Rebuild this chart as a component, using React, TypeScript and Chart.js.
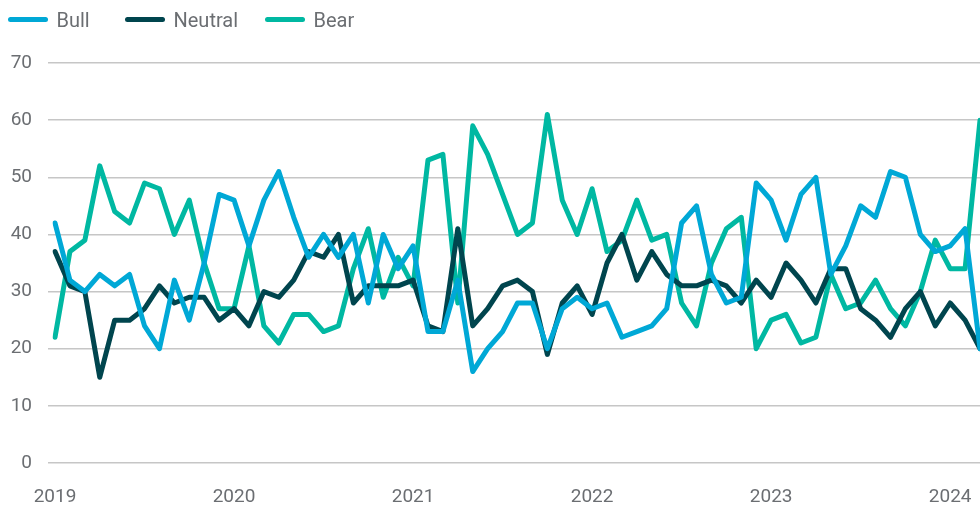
import React, { useEffect, useRef } from 'react';
import { Chart, registerables } from 'chart.js';

Chart.register(...registerables);

// ---- data ----
const yearTicks = ['2019', '2020', '2021', '2022', '2023', '2024'];
const monthNames = ['Jan', 'Feb', 'Mar', 'Apr', 'May', 'Jun', 'Jul', 'Aug', 'Sep', 'Oct', 'Nov', 'Dec'];
// Jan 2019 – Mar 2024 (63 months)
const categories: string[] = [];
yearTicks.forEach((y) => monthNames.forEach((m) => categories.push(`${m} ${y}`)));
const months = categories.slice(0, 63);

const bull = [
  42, 32, 30, 33, 31, 33, 24, 20, 32, 25, 35, 47,
  46, 38, 46, 51, 43, 36, 40, 36, 40, 28, 40, 34,
  38, 23, 23, 32, 16, 20, 23, 28, 28, 20, 27, 29,
  27, 28, 22, 23, 24, 27, 42, 45, 33, 28, 29, 49,
  46, 39, 47, 50, 33, 38, 45, 43, 51, 50, 40, 37,
  38, 41, 20,
];
const neutral = [
  37, 31, 30, 15, 25, 25, 27, 31, 28, 29, 29, 25,
  27, 24, 30, 29, 32, 37, 36, 40, 28, 31, 31, 31,
  32, 24, 23, 41, 24, 27, 31, 32, 30, 19, 28, 31,
  26, 35, 40, 32, 37, 33, 31, 31, 32, 31, 28, 32,
  29, 35, 32, 28, 34, 34, 27, 25, 22, 27, 30, 24,
  28, 25, 20,
];
const bear = [
  22, 37, 39, 52, 44, 42, 49, 48, 40, 46, 35, 27,
  27, 38, 24, 21, 26, 26, 23, 24, 34, 41, 29, 36,
  31, 53, 54, 28, 59, 54, 47, 40, 42, 61, 46, 40,
  48, 37, 39, 46, 39, 40, 28, 24, 35, 41, 43, 20,
  25, 26, 21, 22, 33, 27, 28, 32, 27, 24, 30, 39,
  34, 34, 60,
];
const seriesNames = ['Bull', 'Neutral', 'Bear'];

// ---- style ----
const COLORS = ['#00a8d6', '#00454e', '#00b8a2'];
const TEXT = '#6b6e72';
const GRID = '#c6c6c6';
const FONT = 'Roboto, "Liberation Sans", Arial, sans-serif';
const LEGEND_X = [10.5, 127.5, 267.5];

const legendPlugin = {
  id: 'lineLegend',
  afterDraw(chart: any) {
    const ctx = chart.ctx as CanvasRenderingContext2D;
    ctx.save();
    ctx.font = `20px ${FONT}`;
    ctx.textBaseline = 'alphabetic';
    ctx.textAlign = 'left';
    chart.data.datasets.forEach((ds: any, i: number) => {
      const x = LEGEND_X[i];
      ctx.strokeStyle = ds.borderColor;
      ctx.lineWidth = 5;
      ctx.lineCap = 'round';
      ctx.beginPath();
      ctx.moveTo(x, 19.5);
      ctx.lineTo(x + 35, 19.5);
      ctx.stroke();
      ctx.fillStyle = TEXT;
      ctx.fillText(ds.label, x + 46, 26.5);
    });
    ctx.restore();
  },
};

export default function App() {
  const ref = useRef<HTMLCanvasElement | null>(null);

  useEffect(() => {
    if (!ref.current) return;
    const series = [bull, neutral, bear];
    const chart = new Chart(ref.current, {
      type: 'line',
      data: {
        labels: months,
        datasets: series.map((d, i) => ({
          label: seriesNames[i],
          data: d,
          borderColor: COLORS[i],
          backgroundColor: COLORS[i],
          borderWidth: 5,
          pointRadius: 0,
          pointHoverRadius: 0,
          tension: 0,
          borderJoinStyle: 'round' as const,
          borderCapStyle: 'round' as const,
          fill: false,
        })),
      },
      options: {
        responsive: false,
        maintainAspectRatio: false,
        animation: false,
        layout: { padding: { top: 63, left: 0, right: 0, bottom: 0 } },
        plugins: {
          legend: { display: false },
          tooltip: { enabled: false },
        },
        scales: {
          x: {
            type: 'category',
            offset: false,
            grid: { display: false, drawTicks: true, tickLength: 23 },
            border: { display: false },
            afterFit: (scale: any) => {
              scale.height = 45;
              scale.paddingLeft = 0;
              scale.paddingRight = 0;
            },
            ticks: {
              autoSkip: false,
              maxRotation: 0,
              minRotation: 0,
              padding: 0,
              color: TEXT,
              font: { family: FONT, size: 19 },
              callback: (_v: any, idx: number) => {
                const m = months[idx];
                if (m && m.startsWith('Jan')) return yearTicks[Math.floor(idx / 12)];
                return '';
              },
            },
          },
          y: {
            min: 0,
            max: 70,
            afterFit: (scale: any) => {
              scale.width = 55;
            },
            grid: { color: GRID, lineWidth: 1.5, drawTicks: true, tickLength: 7 },
            border: { display: false },
            ticks: {
              stepSize: 10,
              padding: 16,
              color: TEXT,
              font: { family: FONT, size: 19 },
            },
          },
        },
      },
      plugins: [legendPlugin],
    });
    return () => chart.destroy();
  }, []);

  return (
    <div style={{ position: 'fixed', left: 0, top: 0, width: 980, height: 508, background: '#fff' }}>
      <canvas ref={ref} width={980} height={508} style={{ display: 'block', width: 980, height: 508 }} />
    </div>
  );
}
